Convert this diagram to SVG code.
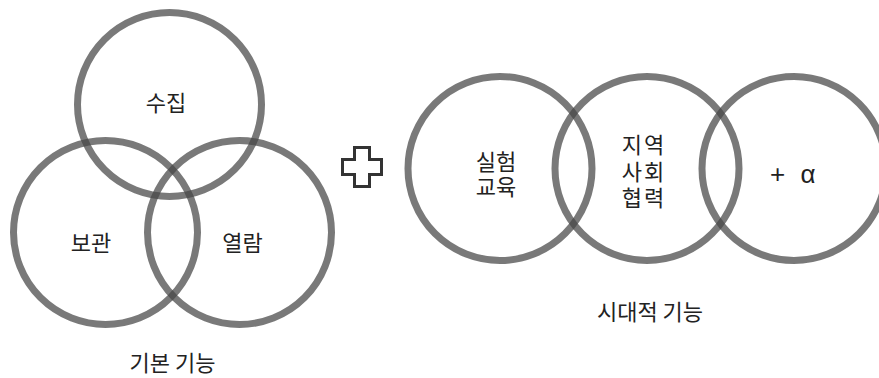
<svg xmlns="http://www.w3.org/2000/svg" width="879" height="378" viewBox="0 0 879 378">
<style>
.c{fill:none;stroke:#454545;stroke-opacity:0.72;stroke-width:7}
.t{font-family:"Noto Sans CJK KR","Noto Sans",sans-serif;font-size:22px;fill:#222;text-anchor:middle}
.a{font-family:"Liberation Sans","Noto Sans",sans-serif;font-size:26px;fill:#222;text-anchor:middle}
</style>
<rect width="879" height="378" fill="#fff"/>
<g id="basic">
<g id="n-sujip"><circle class="c" cx="169.5" cy="104.5" r="92"/><text class="t" x="166" y="111">수집</text></g>
<g id="n-bogwan"><circle class="c" cx="105.5" cy="232.5" r="92"/><text class="t" x="91" y="251">보관</text></g>
<g id="n-yeollam"><circle class="c" cx="239.5" cy="232.5" r="92"/><text class="t" x="242.5" y="251">열람</text></g>
<text class="t" x="172.5" y="371">기본 기능</text>
</g>
<g id="plus"><path d="M354.5,147.5h15v12h12v15h-12v12h-15v-12h-12v-15h12z" fill="#fff" stroke="#333" stroke-width="3"/></g>
<g id="era">
<g id="n-edu"><circle class="c" cx="500" cy="168.5" r="92"/><text class="t" x="496" y="170">실험</text><text class="t" x="496" y="195">교육</text></g>
<g id="n-community"><circle class="c" cx="647" cy="168.5" r="92"/><text class="t" x="644" y="153" letter-spacing="2">지역</text><text class="t" x="644" y="180" letter-spacing="2">사회</text><text class="t" x="644" y="206" letter-spacing="2">협력</text></g>
<g id="n-alpha"><circle class="c" cx="794" cy="168.5" r="92"/><text class="a" x="777.5" y="183">+</text><text class="a" x="808" y="183">α</text></g>
<text class="t" x="650" y="320">시대적 기능</text>
</g>
<g id="connectors"/>
</svg>
